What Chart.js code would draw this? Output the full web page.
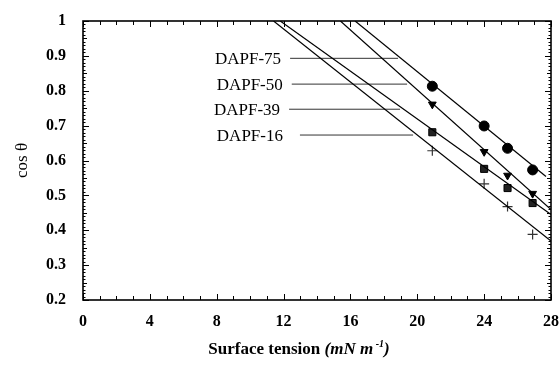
<!DOCTYPE html>
<html>
<head>
    <title>Zisman plot</title>
    <script src="https://cdn.jsdelivr.net/npm/chart.js"></script>
    <style>
        html, body { margin: 0; padding: 0; background: #fff; }
        .chart-container { width: 559px; height: 379px; position: relative; }
    </style>
</head>
<body>
    <div class="chart-container">
        <canvas id="zismanChart"></canvas>
    </div>

    <script>
        // Surface tension of test liquids (mN/m)
        const tension = [20.9, 24.0, 25.4, 26.9];

        // cos(theta) for each film
        const cos75 = [0.813, 0.699, 0.635, 0.573];
        const cos50 = [0.761, 0.625, 0.557, 0.505];
        const cos39 = [0.681, 0.576, 0.521, 0.478];
        const cos16 = [0.628, 0.533, 0.468, 0.388];

        // fitted lines, end points
        const fitX75 = [16.28, 27.7], fitY75 = [1, 0.554];
        const fitX50 = [15.4, 28],    fitY50 = [1, 0.459];
        const fitX39 = [11.8, 28],    fitY39 = [1, 0.445];
        const fitX16 = [11.4, 28],    fitY16 = [1, 0.369];

        // label leaders: start x, end x, y
        const seriesNames = ['DAPF-75', 'DAPF-50', 'DAPF-39', 'DAPF-16'];
        const leaderStartX = [12.39, 12.49, 12.33, 12.98];
        const leaderEndX = [18.85, 19.39, 18.97, 19.75];
        const leaderY = [0.893, 0.819, 0.747, 0.673];
        const labelGap = [9, 9, 9, 17];

        const xTicks = [0, 4, 8, 12, 16, 20, 24, 28];
        const yTicks = [0.2, 0.3, 0.4, 0.5, 0.6, 0.7, 0.8, 0.9, 1];

        const serif = '"Liberation Serif", "Times New Roman", serif';

        function pts(xs, ys) {
            return xs.map((x, i) => ({ x: x, y: ys[i] }));
        }

        const datasets = [];
        [[fitX75, fitY75], [fitX50, fitY50], [fitX39, fitY39], [fitX16, fitY16]].forEach(f => {
            datasets.push({
                data: pts(f[0], f[1]),
                showLine: true,
                borderColor: '#000',
                borderWidth: 1.2,
                pointRadius: 0
            });
        });
        seriesNames.forEach((n, i) => {
            datasets.push({
                data: [{ x: leaderStartX[i], y: leaderY[i] }, { x: leaderEndX[i], y: leaderY[i] }],
                showLine: true,
                borderColor: '#333',
                borderWidth: 1,
                pointRadius: 0
            });
        });
        datasets.push({
            label: 'DAPF-75', data: pts(tension, cos75),
            pointStyle: 'circle', pointRadius: 5, backgroundColor: '#000', borderColor: '#000'
        });
        datasets.push({
            label: 'DAPF-50', data: pts(tension, cos50),
            pointStyle: 'triangle', rotation: 180, pointRadius: 4.5, backgroundColor: '#000', borderColor: '#000'
        });
        datasets.push({
            label: 'DAPF-39', data: pts(tension, cos39),
            pointStyle: 'rect', pointRadius: 5, backgroundColor: '#222', borderColor: '#000'
        });
        datasets.push({
            label: 'DAPF-16', data: pts(tension, cos16),
            pointStyle: 'cross', pointRadius: 5, borderWidth: 1.2, borderColor: '#333'
        });

        // frame, inward ticks, series labels and x title
        const decorPlugin = {
            id: 'decor',
            afterDatasetsDraw(chart) {
                const ctx = chart.ctx;
                const a = chart.chartArea;
                const xs = chart.scales.x, ys = chart.scales.y;
                ctx.save();
                ctx.strokeStyle = '#000';
                ctx.lineWidth = 1;
                ctx.beginPath();
                for (let v = 0; v <= 28; v++) {
                    const px = Math.round(xs.getPixelForValue(v)) + 0.5;
                    const len = v % 4 === 0 ? 6 : 4;
                    ctx.moveTo(px, a.bottom); ctx.lineTo(px, a.bottom - len);
                    ctx.moveTo(px, a.top); ctx.lineTo(px, a.top + len);
                }
                for (let k = 20; k <= 100; k++) {
                    const py = Math.round(ys.getPixelForValue(k / 100)) + 0.5;
                    const len = k % 10 === 0 ? 6 : (k % 5 === 0 ? 4 : 2.5);
                    ctx.moveTo(a.left, py); ctx.lineTo(a.left + len, py);
                    ctx.moveTo(a.right, py); ctx.lineTo(a.right - len, py);
                }
                ctx.stroke();
                ctx.lineWidth = 1.6;
                ctx.strokeRect(a.left, a.top, a.right - a.left, a.bottom - a.top);

                // series labels
                ctx.fillStyle = '#000';
                ctx.font = '17px ' + serif;
                ctx.textAlign = 'right';
                ctx.textBaseline = 'middle';
                seriesNames.forEach((n, i) => {
                    const px = xs.getPixelForValue(leaderStartX[i]) - labelGap[i];
                    ctx.fillText(n, px, ys.getPixelForValue(leaderY[i]) + 1);
                });

                // x axis title with italic unit
                const ty = 354;
                const parts = [
                    { t: 'Surface tension ', f: 'bold 17px ' + serif, dy: 0 },
                    { t: '(mN m', f: 'italic bold 17px ' + serif, dy: 0 },
                    { t: ' -1', f: 'italic bold 10px ' + serif, dy: -7 },
                    { t: ')', f: 'italic bold 17px ' + serif, dy: 0 }
                ];
                let total = 0;
                parts.forEach(p => { ctx.font = p.f; p.w = ctx.measureText(p.t).width; total += p.w; });
                let x = 299 - total / 2;
                ctx.textAlign = 'left';
                ctx.textBaseline = 'alphabetic';
                parts.forEach(p => {
                    ctx.font = p.f;
                    ctx.fillText(p.t, x, ty + p.dy);
                    x += p.w;
                });
                ctx.restore();
            }
        };

        const ctx = document.getElementById('zismanChart').getContext('2d');
        new Chart(ctx, {
            type: 'scatter',
            data: { datasets: datasets },
            options: {
                responsive: true,
                maintainAspectRatio: false,
                animation: false,
                layout: { padding: { top: 21, right: 8, left: 0, bottom: 0 } },
                plugins: {
                    legend: { display: false },
                    tooltip: { enabled: false }
                },
                scales: {
                    x: {
                        type: 'linear',
                        min: 0, max: 28,
                        afterBuildTicks: s => { s.ticks = xTicks.map(v => ({ value: v })); },
                        afterFit: s => { s.height = 79; s.paddingLeft = 0; s.paddingRight = 0; },
                        grid: { display: false, drawTicks: false },
                        border: { display: false },
                        ticks: {
                            padding: 12,
                            color: '#000',
                            font: { family: serif, size: 16, weight: 'bold' },
                            callback: v => String(v)
                        }
                    },
                    y: {
                        type: 'linear',
                        min: 0.2, max: 1,
                        afterBuildTicks: s => { s.ticks = yTicks.map(v => ({ value: v })); },
                        afterFit: s => { s.width = 83; s.paddingTop = 0; s.paddingBottom = 0; },
                        grid: { display: false, drawTicks: false },
                        border: { display: false },
                        title: {
                            display: true,
                            text: 'cos θ',
                            color: '#000',
                            padding: { top: 12, bottom: 0 },
                            font: { family: serif, size: 17 }
                        },
                        ticks: {
                            padding: 17,
                            color: '#000',
                            font: { family: serif, size: 16, weight: 'bold' },
                            callback: v => (v === 1 ? '1' : v.toFixed(1))
                        }
                    }
                }
            },
            plugins: [decorPlugin]
        });
    </script>
</body>
</html>
